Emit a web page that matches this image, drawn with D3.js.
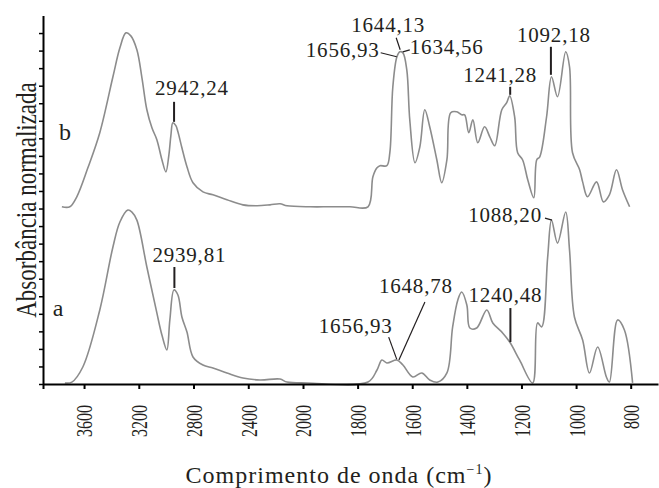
<!DOCTYPE html>
<html>
<head>
<meta charset="utf-8">
<script src="https://cdn.jsdelivr.net/npm/d3@7.9.0/dist/d3.min.js"></script>
<style>
  body { margin: 0; background: #fff; }
</style>
</head>
<body>
<svg id="chart" width="659" height="488"></svg>
<script>
// wavenumbers (cm-1) and normalized absorbance
const wnB = [3762, 3704, 3653, 3572, 3485, 3389, 3338, 3294, 3258, 3214, 3177, 3141, 3104, 3068, 3031, 3002, 2980, 2965, 2951, 2929, 2914, 2885, 2848, 2804, 2731, 2658, 2556, 2439, 2336, 2241, 2168, 2117, 1974, 1901, 1828, 1762, 1744, 1729, 1718, 1693, 1682, 1671, 1656, 1645, 1634, 1620, 1609, 1590, 1572, 1554, 1536, 1510, 1492, 1473, 1459, 1437, 1419, 1408, 1393, 1378, 1360, 1335, 1316, 1298, 1272, 1254, 1243, 1225, 1214, 1196, 1177, 1155, 1144, 1133, 1108, 1090, 1068, 1038, 1024, 1013, 987, 976, 958, 925, 900, 878, 852, 830, 804];
const absB = [0, 0, 0.057, 0.222, 0.422, 0.741, 0.906, 0.991, 0.974, 0.895, 0.735, 0.553, 0.450, 0.382, 0.268, 0.199, 0.296, 0.410, 0.479, 0.462, 0.427, 0.336, 0.228, 0.137, 0.085, 0.068, 0.040, 0.011, 0.006, 0.011, 0.017, 0.006, 0, 0, 0, 0, 0.171, 0.222, 0.234, 0.234, 0.308, 0.684, 0.855, 0.883, 0.877, 0.781, 0.496, 0.251, 0.342, 0.553, 0.456, 0.268, 0.137, 0.268, 0.536, 0.541, 0.524, 0.524, 0.422, 0.496, 0.365, 0.456, 0.399, 0.348, 0.553, 0.593, 0.632, 0.513, 0.308, 0.268, 0.154, 0.051, 0.268, 0.285, 0.513, 0.741, 0.627, 0.883, 0.798, 0.308, 0.211, 0.142, 0.057, 0.142, 0.028, 0.068, 0.211, 0.097, 0];

const wnA = [3740, 3689, 3609, 3485, 3389, 3338, 3280, 3250, 3214, 3141, 3068, 3031, 2995, 2973, 2943, 2914, 2885, 2848, 2804, 2731, 2658, 2556, 2439, 2314, 2168, 2117, 1985, 1762, 1729, 1711, 1693, 1656, 1634, 1598, 1565, 1536, 1506, 1473, 1452, 1433, 1419, 1400, 1389, 1364, 1327, 1305, 1269, 1243, 1207, 1159, 1141, 1126, 1104, 1090, 1068, 1038, 1024, 1006, 976, 951, 921, 889, 878, 848, 823, 793];
const absA = [0.006, 0.011, 0.097, 0.422, 0.781, 0.923, 0.991, 0.980, 0.934, 0.667, 0.405, 0.279, 0.194, 0.365, 0.536, 0.507, 0.382, 0.296, 0.154, 0.108, 0.091, 0.063, 0.034, 0.023, 0.028, 0.011, 0.006, 0.011, 0.080, 0.137, 0.120, 0.137, 0.108, 0.040, 0.063, 0.023, 0.011, 0.063, 0.325, 0.479, 0.524, 0.450, 0.319, 0.319, 0.422, 0.348, 0.291, 0.239, 0.137, 0.006, 0.348, 0.325, 0.724, 0.934, 0.803, 0.980, 0.764, 0.382, 0.251, 0.063, 0.211, 0.040, 0.011, 0.365, 0.308, 0.006];

const offsetB = 1.01;  // spectrum b is stacked above a

const xTicks = [3600, 3200, 2800, 2400, 2000, 1800, 1600, 1400, 1200, 1000, 800];

// peak labels: text, wavenumber, absorbance where the mark touches the curve, spectrum
const peakText = ["2942,24", "1656,93", "1644,13", "1634,56", "1241,28", "1092,18",
                  "2939,81", "1656,93", "1648,78", "1240,48", "1088,20"];
const peakWn   = [2942.24, 1656.93, 1644.13, 1634.56, 1241.28, 1092.18,
                  2939.81, 1656.93, 1648.78, 1240.48, 1088.20];
const peakAbs  = [0.484, 0.855, 0.895, 0.883, 0.638, 0.752,
                  0.547, 0.142, 0.137, 0.239, 0.934];
const peakSpec = ["b", "b", "b", "b", "b", "b", "a", "a", "a", "a", "a"];

// leader line start (relative to touch point) and text position/anchor
const peakLayout = [
  { lx: 0,   ly: -20, tx: -19, ty: -27, anchor: "start" },
  { lx: -16, ly: -4,  tx: -17, ty: 0,   anchor: "end" },
  { lx: -4,  ly: -12, tx: -12, ty: -18, anchor: "middle" },
  { lx: 7,   ly: -2,  tx: 7,   ty: 2,   anchor: "start" },
  { lx: 0,   ly: -8,  tx: -10, ty: -13, anchor: "middle" },
  { lx: 0,   ly: -28, tx: 3,   ty: -33, anchor: "middle" },
  { lx: 0,   ly: -21, tx: -22, ty: -26, anchor: "start" },
  { lx: -8,  ly: -22, tx: -4,  ty: -26, anchor: "end" },
  { lx: 26,  ly: -58, tx: 17,  ty: -67, anchor: "middle" },
  { lx: 0,   ly: -34, tx: -5,  ty: -40, anchor: "middle" },
  { lx: -7,  ly: -2,  tx: -10, ty: 2,   anchor: "end" }
];

const serif = "Liberation Serif";
const ink = "#231f20";

const svg = d3.select("#chart");

// FTIR style axis: scale changes at 2000 cm-1
const x = d3.scaleLinear().domain([3900, 2000, 700]).range([43, 303, 658]);
const y = d3.scaleLinear().domain([0, 2.1]).range([384, 15.5]);

const line = d3.line()
  .x(d => x(d[0]))
  .y(d => y(d[1]))
  .curve(d3.curveCatmullRom.alpha(0.5));

const specA = wnA.map((w, i) => [w, absA[i]]);
const specB = wnB.map((w, i) => [w, absB[i] + offsetB]);

[specB, specA].forEach(s => {
  svg.append("path")
    .datum(s)
    .attr("d", line)
    .attr("fill", "none")
    .attr("stroke", "#8c8c8c")
    .attr("stroke-width", 1.6);
});

// axes
const xAxis = svg.append("g")
  .attr("transform", `translate(0,${y(0)})`)
  .call(d3.axisBottom(x).tickValues([3900].concat(xTicks)).tickSize(5).tickSizeOuter(0)
    .tickFormat(d => d === 3900 ? "" : d));
xAxis.select(".domain").attr("stroke-width", 2);
xAxis.selectAll(".tick line").attr("stroke-width", 2);
// the rotated labels in the figure are stretched across their height
xAxis.selectAll(".tick text")
  .attr("transform", "rotate(-90) scale(1,1.5)")
  .attr("x", -21)
  .attr("y", 0)
  .attr("dy", "0.33em")
  .attr("text-anchor", "end")
  .attr("font-size", 16)
  .attr("font-family", serif)
  .attr("fill", ink);

const yAxis = svg.append("g")
  .attr("transform", `translate(${x(3900)},0)`)
  .call(d3.axisLeft(y).tickValues(d3.range(0, 21).map(i => i / 10)).tickSize(4).tickSizeOuter(0).tickFormat(""));
yAxis.select(".domain").attr("stroke-width", 2);
yAxis.selectAll(".tick line").attr("stroke-width", 1.5);

// peak annotations
const yOf = i => y(peakAbs[i] + (peakSpec[i] === "b" ? offsetB : 0));
const ann = svg.append("g");
peakText.forEach((t, i) => {
  const px = x(peakWn[i]), py = yOf(i), L = peakLayout[i];
  ann.append("line")
    .attr("x1", px + L.lx).attr("y1", py + L.ly)
    .attr("x2", px).attr("y2", py)
    .attr("stroke", ink)
    .attr("stroke-width", L.lx === 0 ? 2 : 1.2);
  ann.append("text")
    .attr("x", px + L.tx).attr("y", py + L.ty)
    .attr("text-anchor", L.anchor)
    .attr("font-family", serif)
    .attr("font-size", 21)
    .attr("letter-spacing", 0.8)
    .attr("fill", ink)
    .text(t);
});

// series letters
svg.append("text").attr("x", x(3739)).attr("y", 140).attr("text-anchor", "middle")
  .attr("font-family", serif).attr("font-size", 24).attr("fill", ink).text("b");
svg.append("text").attr("x", x(3790)).attr("y", 316).attr("text-anchor", "middle")
  .attr("font-family", serif).attr("font-size", 24).attr("fill", ink).text("a");

// axis titles
const xt = svg.append("text")
  .attr("x", 339).attr("y", 483)
  .attr("text-anchor", "middle")
  .attr("font-family", serif)
  .attr("font-size", 24)
  .attr("letter-spacing", 1)
  .attr("fill", ink);
xt.append("tspan").text("Comprimento de onda (cm");
xt.append("tspan").attr("dy", -9).attr("font-size", 14).text("\u22121");
xt.append("tspan").attr("dy", 9).text(")");

svg.append("text")
  .attr("transform", "translate(36,200) rotate(-90) scale(1,1.25)")
  .attr("text-anchor", "middle")
  .attr("font-family", serif)
  .attr("font-size", 23)
  .attr("fill", ink)
  .text("Absorbância normalizada");
</script>
</body>
</html>
